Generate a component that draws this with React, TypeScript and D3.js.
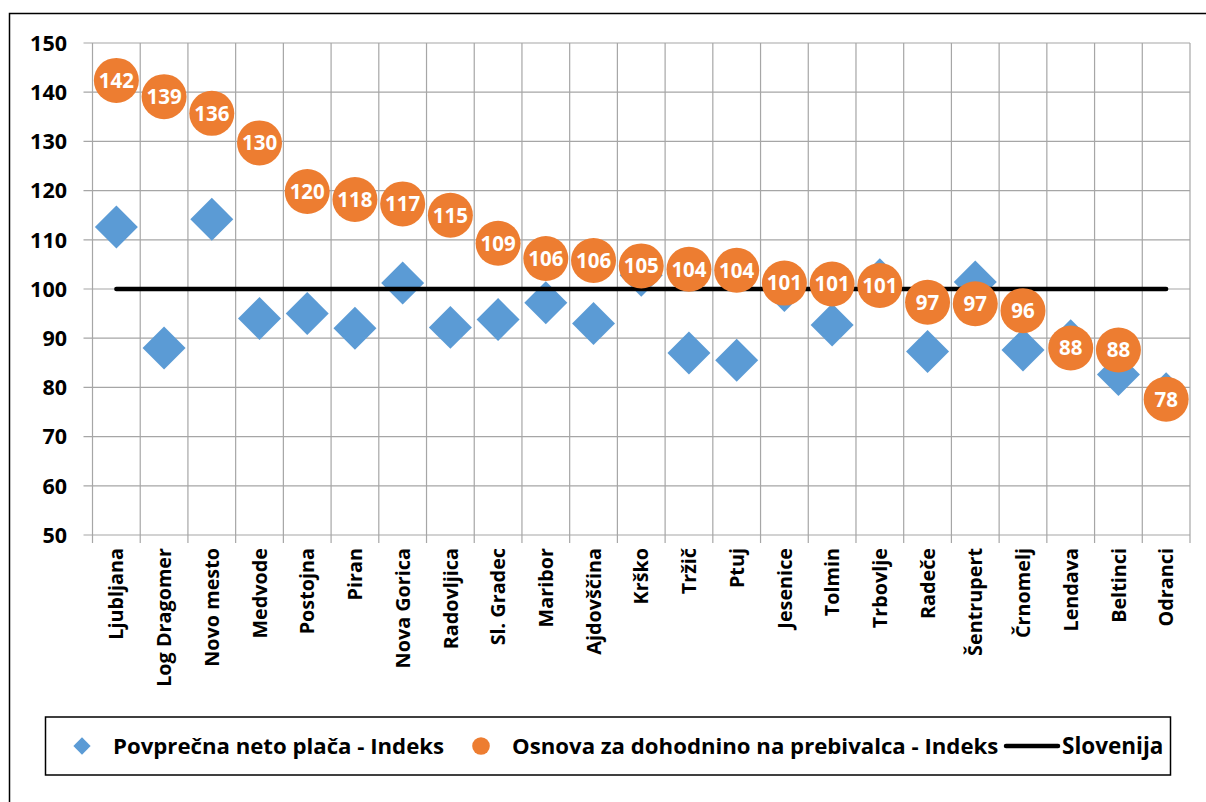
import React from "react";
import * as d3 from "d3";

const categories = ["Ljubljana","Log Dragomer","Novo mesto","Medvode","Postojna","Piran","Nova Gorica","Radovljica","Sl. Gradec","Maribor","Ajdovščina","Krško","Tržič","Ptuj","Jesenice","Tolmin","Trbovlje","Radeče","Šentrupert","Črnomelj","Lendava","Beltinci","Odranci"];
const placaIndeks = [112.6,88.0,114.2,94.0,95.0,92.0,101.2,92.2,93.8,97.2,93.0,102.8,87.0,85.5,99.7,92.7,101.9,87.3,101.4,87.6,89.5,82.6,78.7];
const dohodninaIndeks = [142.4,139.1,135.7,129.7,119.8,118.2,117.3,115.0,109.3,106.2,105.8,104.7,104.0,103.8,101.2,101.0,100.7,97.3,97.0,95.6,88.0,87.6,77.6];
const slovenija = categories.map(() => 100);
const yTicks = [50,60,70,80,90,100,110,120,130,140,150];
const legendLabels = ["Povprečna neto plača - Indeks","Osnova za dohodnino na prebivalca - Indeks","Slovenija"];

const BLUE = "#5B9BD5";
const ORANGE = "#ED7D31";
const GRID = "#A6A6A6";
const FONT = "'Open Sans', Lato, sans-serif";

export default function App() {
  const W = 1206, H = 802;
  const left = 92.5, right = 1190, top = 43, bottom = 535;
  const x = d3.scaleBand<string>().domain(categories).range([left, right]).padding(0);
  const y = d3.scaleLinear().domain([50,150]).range([bottom, top]);
  const cx = (c: string) => (x(c) as number) + x.bandwidth() / 2;
  const diamond = d3.symbol().type(d3.symbolSquare).size(30.4 * 30.4)();
  const legDiamond = d3.symbol().type(d3.symbolSquare).size(12.2 * 12.2)();
  const line = d3.line<number>().x((_, i) => cx(categories[i])).y(v => y(v));
  const bounds = categories.map(c => x(c) as number).concat([right]);

  return (
    <svg width={W} height={H} style={{ position: "absolute", left: 0, top: 0 }} fontFamily={FONT}>
      <rect x={0} y={0} width={W} height={H} fill="#fff" />
      <rect x={9.5} y={13.5} width={1220} height={820} fill="none" stroke="#000" strokeWidth={1.5} />
      {/* grid */}
      {yTicks.map(t => (
        <line key={"h" + t} x1={left - 9} x2={right} y1={y(t)} y2={y(t)} stroke={GRID} strokeWidth={1.2} />
      ))}
      {bounds.map((b, i) => (
        <line key={"v" + i} x1={b} x2={b} y1={top} y2={bottom + 8} stroke={GRID} strokeWidth={1.2} />
      ))}
      {/* y labels */}
      {yTicks.map(t => (
        <text key={"yl" + t} x={67} y={y(t)} dy="0.36em" textAnchor="end" fontWeight="bold" fontSize={21.5} fill="#000">{t}</text>
      ))}
      {/* x labels */}
      {categories.map(c => (
        <text key={"xl" + c} transform={`translate(${cx(c)},548) rotate(-90)`} dy="0.36em" textAnchor="end" fontWeight="bold" fontSize={19.8} fill="#000">{c}</text>
      ))}
      {/* diamonds */}
      {placaIndeks.map((v, i) => (
        <path key={"d" + i} d={diamond as string} transform={`translate(${cx(categories[i])},${y(v)}) rotate(45)`} fill={BLUE} />
      ))}
      {/* Slovenija line */}
      <path d={line(slovenija) as string} fill="none" stroke="#000" strokeWidth={4.5} strokeLinecap="round" />
      {/* circles */}
      {dohodninaIndeks.map((v, i) => (
        <g key={"c" + i} transform={`translate(${cx(categories[i])},${y(v)})`}>
          <circle r={22.5} fill={ORANGE} />
          <text textAnchor="middle" dy="0.36em" fill="#fff" fontWeight="bold" fontSize={20.5}>{d3.format(".0f")(v)}</text>
        </g>
      ))}
      {/* legend */}
      <rect x={45.5} y={717} width={1125} height={58} fill="#fff" stroke="#000" strokeWidth={1.5} />
      <path d={legDiamond as string} transform={`translate(82,746) rotate(45)`} fill={BLUE} />
      <text x={113} y={746} dy="0.36em" fontWeight="bold" fontSize={22.2} fill="#000">{legendLabels[0]}</text>
      <circle cx={481} cy={746} r={8.8} fill={ORANGE} />
      <text x={512} y={746} dy="0.36em" fontWeight="bold" fontSize={22.2} fill="#000">{legendLabels[1]}</text>
      <line x1={1006} x2={1058} y1={746} y2={746} stroke="#000" strokeWidth={4.5} strokeLinecap="round" />
      <text x={1062} y={746} dy="0.36em" fontWeight="bold" fontSize={22.5} fill="#000">{legendLabels[2]}</text>
    </svg>
  );
}
